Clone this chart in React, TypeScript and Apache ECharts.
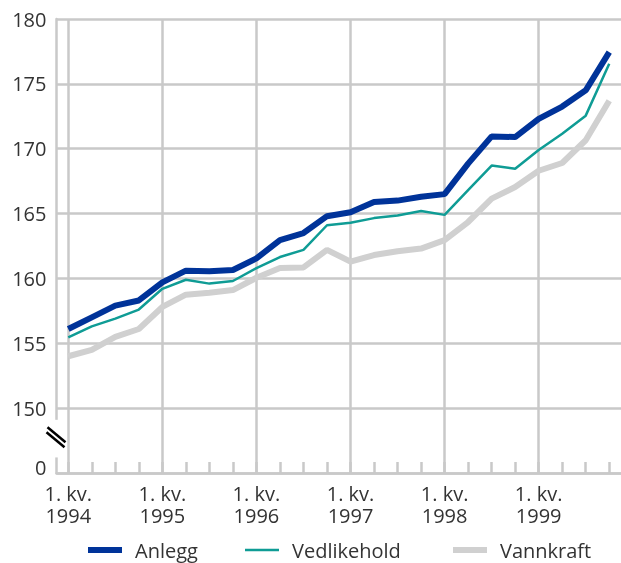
import React, { useEffect, useRef } from "react";
import * as echarts from "echarts";

const years = ["1994", "1995", "1996", "1997", "1998", "1999"];
const quarters = ["1. kv.", "2. kv.", "3. kv.", "4. kv."];
const categories: string[] = [];
years.forEach((y) => quarters.forEach((q) => categories.push(`${q}\n${y}`)));
const yearStarts = years.map((y) => `1. kv.\n${y}`);

const anlegg = [
  156.1, 157.0, 157.9, 158.3, 159.7, 160.6, 160.55, 160.65,
  161.55, 162.95, 163.5, 164.8, 165.1, 165.9, 166.0, 166.3,
  166.5, 168.85, 170.95, 170.9, 172.3, 173.25, 174.5, 177.45,
];
const vedlikehold = [
  155.45, 156.3, 156.9, 157.6, 159.2, 159.9, 159.6, 159.8,
  160.8, 161.65, 162.2, 164.1, 164.3, 164.65, 164.85, 165.2,
  164.9, 166.8, 168.7, 168.45, 169.9, 171.15, 172.55, 176.55,
];
const vannkraft = [
  154.0, 154.5, 155.5, 156.1, 157.8, 158.75, 158.9, 159.1,
  160.05, 160.8, 160.85, 162.2, 161.3, 161.8, 162.1, 162.3,
  162.95, 164.35, 166.15, 167.05, 168.3, 168.9, 170.65, 173.7,
];

const seriesNames = ["Anlegg", "Vedlikehold", "Vannkraft"];
const seriesColors = ["#003399", "#0f9c95", "#d0d0d0"];

const yMin = 145;
const yMax = 180;
const yInterval = 5;
const yTickLabels: Record<number, string> = {
  145: "{z|0}", 150: "150", 155: "155", 160: "160", 165: "165", 170: "170", 175: "175", 180: "180",
};
const breakTop = 149.1;
const breakBottom = 146.2;
const breakMid = 147.75;

const FONT = "'Open Sans', 'Noto Sans', sans-serif";
const FS = 20;
const TEXT = "#333333";
const GRID = "#c9c9c9";
const GRID_LEFT = 56.5;

export default function App() {
  const ref = useRef<HTMLDivElement>(null);
  useEffect(() => {
    if (!ref.current) return;
    const chart = echarts.init(ref.current, null, { renderer: "svg" });
    const legendText = { fontFamily: FONT, fontSize: FS, color: TEXT, padding: [0, 0, 0, 8] };
    const mkLegend = (name: string, left: number, h: number) => ({
      left,
      top: 540,
      padding: 0,
      icon: "rect",
      itemWidth: 34,
      itemHeight: h,
      textStyle: legendText,
      data: [name],
    });
    const option: any = {
      animation: false,
      textStyle: { fontFamily: FONT },
      grid: { left: GRID_LEFT, right: 0, top: 19, bottom: 90, containLabel: false },
      legend: [
        mkLegend(seriesNames[0], 88, 6),
        mkLegend(seriesNames[1], 245, 2.5),
        mkLegend(seriesNames[2], 453, 6),
      ],
      xAxis: {
        type: "category",
        data: categories,
        boundaryGap: true,
        axisLine: { show: true, lineStyle: { color: GRID, width: 2.5 } },
        axisTick: {
          show: true,
          inside: true,
          length: 11,
          alignWithLabel: true,
          interval: 0,
          lineStyle: { color: GRID, width: 2.5 },
        },
        axisLabel: {
          interval: (i: number) => i % 4 === 0,
          fontFamily: FONT,
          fontSize: FS,
          color: TEXT,
          lineHeight: 22,
          margin: 9,
        },
        splitLine: { show: false },
      },
      yAxis: {
        type: "value",
        min: yMin,
        max: yMax,
        interval: yInterval,
        axisLine: { show: true, lineStyle: { color: GRID, width: 2.5 } },
        axisTick: { show: false },
        axisLabel: {
          fontFamily: FONT,
          fontSize: FS,
          color: TEXT,
          margin: 10,
          formatter: (v: number) => yTickLabels[v] ?? "",
          rich: {
            z: { fontFamily: FONT, fontSize: FS, color: TEXT, padding: [0, 0, 12, 0] },
          },
        },
        splitLine: { show: true, lineStyle: { color: GRID, width: 2.5 } },
      },
      series: [
        {
          name: seriesNames[0],
          type: "line",
          data: anlegg,
          symbol: "none",
          z: 4,
          lineStyle: { color: seriesColors[0], width: 6 },
          itemStyle: { color: seriesColors[0] },
          emphasis: { disabled: true },
        },
        {
          name: seriesNames[1],
          type: "line",
          data: vedlikehold,
          symbol: "none",
          z: 3,
          lineStyle: { color: seriesColors[1], width: 2.5 },
          itemStyle: { color: seriesColors[1] },
          emphasis: { disabled: true },
        },
        {
          name: seriesNames[2],
          type: "line",
          data: vannkraft,
          symbol: "none",
          z: 2,
          lineStyle: { color: seriesColors[2], width: 6 },
          itemStyle: { color: seriesColors[2] },
          emphasis: { disabled: true },
          markLine: {
            silent: true,
            z: 1,
            symbol: ["none", "none"],
            label: { show: false },
            lineStyle: { color: GRID, width: 2.5, type: "solid" },
            emphasis: { disabled: true },
            data: yearStarts.map((c) => ({ xAxis: c })),
          },
        },
      ],
    };
    chart.setOption(option);

    const yT = chart.convertToPixel({ yAxisIndex: 0 }, breakTop) as number;
    const yB = chart.convertToPixel({ yAxisIndex: 0 }, breakBottom) as number;
    const yM = chart.convertToPixel({ yAxisIndex: 0 }, breakMid) as number;
    const x = GRID_LEFT;
    chart.setOption({
      graphic: [
        { type: "rect", z: 100, shape: { x: x - 4, y: yT, width: 8, height: yB - yT }, style: { fill: "#ffffff" } },
        { type: "line", z: 101, shape: { x1: x - 9, y1: yM - 10, x2: x + 9, y2: yM + 5 }, style: { stroke: "#000", lineWidth: 2.5 } },
        { type: "line", z: 101, shape: { x1: x - 10, y1: yM - 5, x2: x + 8, y2: yM + 10 }, style: { stroke: "#000", lineWidth: 2.5 } },
      ],
    });
    return () => chart.dispose();
  }, []);
  return (
    <div
      ref={ref}
      style={{ position: "fixed", left: 0, top: 0, width: 621, height: 563 }}
    />
  );
}
